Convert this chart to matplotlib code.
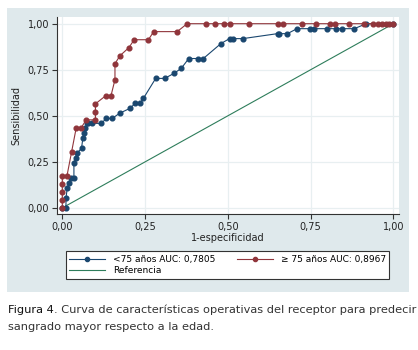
import matplotlib
matplotlib.use('Agg')
import matplotlib.pyplot as plt
from matplotlib.lines import Line2D
from matplotlib.patches import Rectangle

plt.rcParams['font.family'] = ['DejaVu Sans']

# <75 años
fpr_lt75 = [0, 0.011, 0.011, 0.015, 0.020, 0.026, 0.035, 0.035, 0.041, 0.045, 0.058, 0.062,
            0.066, 0.069, 0.074, 0.078, 0.090, 0.118, 0.133, 0.151, 0.173, 0.205, 0.220,
            0.235, 0.245, 0.282, 0.309, 0.337, 0.359, 0.382, 0.411, 0.426, 0.479, 0.505,
            0.515, 0.545, 0.650, 0.656, 0.680, 0.709, 0.748, 0.760, 0.799, 0.827, 0.844,
            0.882, 0.918, 1.0]
tpr_lt75 = [0, 0, 0.054, 0.108, 0.135, 0.162, 0.162, 0.243, 0.270, 0.297, 0.324, 0.378,
            0.405, 0.432, 0.459, 0.459, 0.459, 0.459, 0.486, 0.486, 0.514, 0.541, 0.568,
            0.568, 0.595, 0.703, 0.703, 0.730, 0.757, 0.811, 0.811, 0.811, 0.892, 0.919,
            0.919, 0.919, 0.946, 0.946, 0.946, 0.973, 0.973, 0.973, 0.973, 0.973, 0.973,
            0.973, 1.0, 1.0]

# >=75 años
fpr_ge75 = [0, 0, 0, 0, 0, 0.014, 0.028, 0.042, 0.057, 0.072, 0.100, 0.100, 0.100, 0.131,
            0.147, 0.159, 0.159, 0.174, 0.201, 0.217, 0.260, 0.276, 0.347, 0.377, 0.434,
            0.461, 0.489, 0.507, 0.565, 0.650, 0.666, 0.723, 0.766, 0.809, 0.824, 0.867,
            0.911, 0.938, 0.953, 0.965, 0.977, 0.987, 1.0]
tpr_ge75 = [0, 0.043, 0.087, 0.130, 0.174, 0.174, 0.304, 0.435, 0.435, 0.478, 0.478, 0.522,
            0.565, 0.609, 0.609, 0.696, 0.783, 0.826, 0.870, 0.913, 0.913, 0.957, 0.957,
            1.0, 1.0, 1.0, 1.0, 1.0, 1.0, 1.0, 1.0, 1.0, 1.0, 1.0, 1.0, 1.0, 1.0, 1.0, 1.0,
            1.0, 1.0, 1.0, 1.0]

ticks = [0, 0.25, 0.5, 0.75, 1.0]
tick_labels = ['0,00', '0,25', '0,50', '0,75', '1,00']

blue = '#1a476f'
red = '#90353b'
green = '#2e7d5b'
panel = '#dfe9ec'

fig = plt.figure(figsize=(4.18, 3.5), dpi=100)
fig.patches.append(Rectangle((7/418, 1-292/350), 402/418, 284/350,
                             transform=fig.transFigure, facecolor=panel,
                             edgecolor='none', zorder=-10))

ax = fig.add_axes([56.7/418, 1-214/350, (399-56.7)/418, (214-16.7)/350])
ax.set_facecolor('white')
ax.plot([0, 1], [0, 1], color=green, lw=0.8, zorder=2)
ax.plot(fpr_lt75, tpr_lt75, '-o', color=blue, lw=0.8, ms=3.4, zorder=3)
ax.plot(fpr_ge75, tpr_ge75, '-o', color=red, lw=0.8, ms=3.4, zorder=4)

ax.set_xlim(-0.017, 1.017)
ax.set_ylim(-0.033, 1.038)
ax.set_xticks(ticks)
ax.set_xticklabels(tick_labels)
ax.set_yticks(ticks)
ax.set_yticklabels(tick_labels)
ax.tick_params(labelsize=7, length=3.5, width=0.8, color='#333333',
               labelcolor='#222222', pad=2)
ax.grid(True, color='#e8eff1', lw=0.9)
ax.set_axisbelow(True)
for s in ['top', 'right']:
    ax.spines[s].set_visible(False)
for s in ['left', 'bottom']:
    ax.spines[s].set_color('#333333')
    ax.spines[s].set_linewidth(0.8)
ax.set_xlabel('1-especificidad', fontsize=7, color='#222222', labelpad=1)
ax.set_ylabel('Sensibilidad', fontsize=7, color='#222222', labelpad=4)

handles = [Line2D([], [], color=blue, lw=0.8, marker='o', ms=3),
           Line2D([], [], color=green, lw=0.8),
           Line2D([], [], color=red, lw=0.8, marker='o', ms=3)]
labels = ['<75 años AUC: 0,7805', 'Referencia', '\u2265 75 años AUC: 0,8967']
leg = fig.legend(handles, labels, ncol=2, loc='lower left',
                 bbox_to_anchor=(65.7/418, 1-279/350, (389.3-65.7)/418, (279-246.7)/350),
                 mode='expand', fontsize=6.5, frameon=True, fancybox=False,
                 edgecolor='#333333', framealpha=1, borderaxespad=0,
                 handlelength=4.0, handletextpad=0.8, numpoints=1,
                 labelspacing=0.3, borderpad=0.4, columnspacing=1.5)
leg.get_frame().set_linewidth(0.8)

t1 = fig.text(8/418, 1-310/350, 'Figura 4', fontsize=8.2, color='#111111', va='center')
ax.annotate('. Curva de características operativas del receptor para predecir',
            xy=(1, 0), xycoords=t1, va='bottom', fontsize=8.2, color='#333333',
            annotation_clip=False)
fig.text(8/418, 1-327/350, 'sangrado mayor respecto a la edad.', fontsize=8.2,
         color='#333333', va='center')

fig.savefig('out.png', dpi=100)
